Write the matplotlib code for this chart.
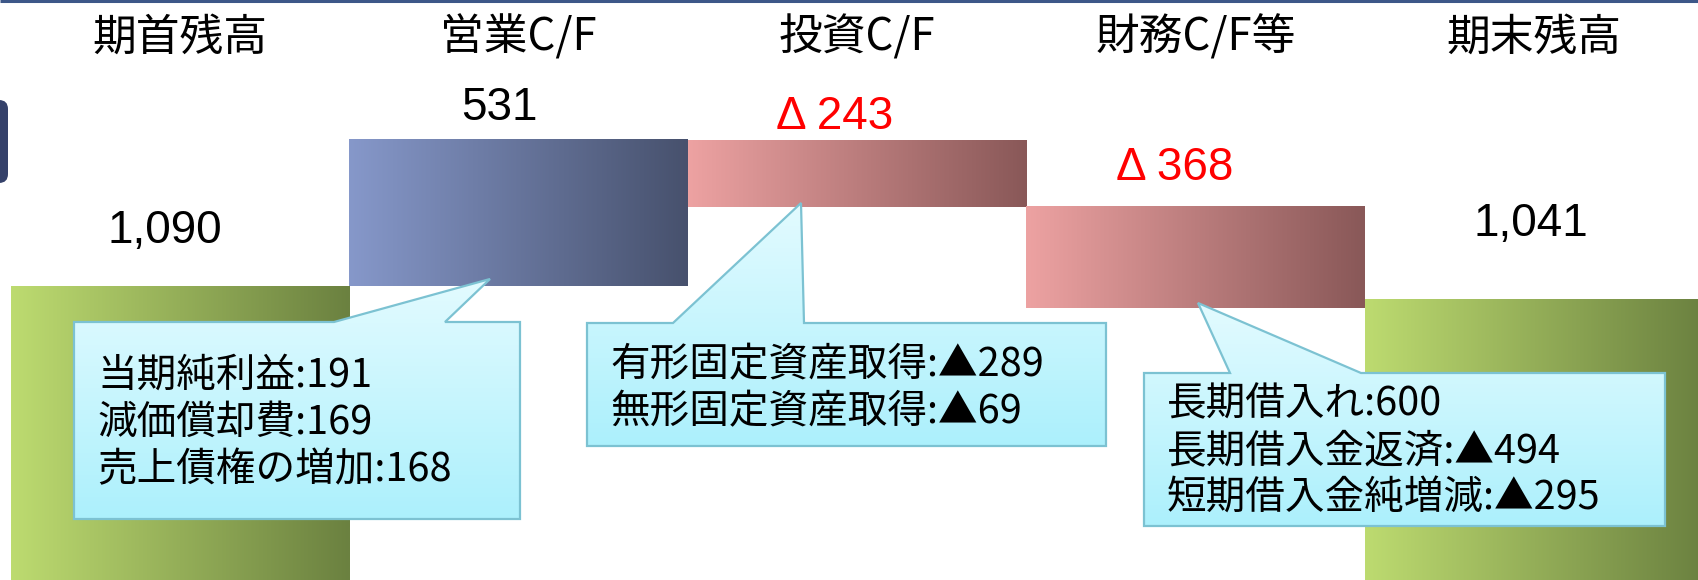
import numpy as np
import matplotlib
matplotlib.use('Agg')
import matplotlib.pyplot as plt
from matplotlib.colors import LinearSegmentedColormap
from matplotlib.patches import Polygon, FancyBboxPatch

# ---- data ----
categories = ['期首残高', '営業C/F', '投資C/F', '財務C/F等', '期末残高']
values = [1090, 531, -243, -368, 1041]
value_labels = ['1,090', '531', 'Δ 243', 'Δ 368', '1,041']
label_red = [False, False, True, True, False]

callout_op = ['当期純利益:191', '減価償却費:169', '売上債権の増加:168']
callout_inv = ['有形固定資産取得:▲289', '無形固定資産取得:▲69']
callout_fin = ['長期借入れ:600', '長期借入金返済:▲494', '短期借入金純増減:▲295']

# ---- layout / style ----
W, H = 1698, 580
JP = ['Noto Sans CJK JP', 'DejaVu Sans']
NUM = ['Liberation Sans', 'DejaVu Sans']

grad_green = ('#bddb70', '#6b8140')
grad_blue = ('#8698ca', '#47516d')
grad_pink = ('#eda2a2', '#895858')
bar_grads = [grad_green, grad_blue, grad_pink, grad_pink, grad_green]

# label offsets (dx in bar units, dy in value units above bar top)
label_off = [(-0.045, 200), (-0.055, 117), (-0.065, 84), (-0.06, 142), (-0.01, 275)]


def waterfall(vals):
    bottoms, heights = [], []
    run = 0
    for i, v in enumerate(vals):
        if i == 0 or i == len(vals) - 1:
            bottoms.append(0)
            heights.append(v)
            run = v if i == 0 else run
        else:
            b = run if v >= 0 else run + v
            bottoms.append(b)
            heights.append(abs(v))
            run += v
    return bottoms, heights


def main():
    fig = plt.figure(figsize=(W / 100, H / 100), dpi=100)
    ax = fig.add_axes([0, 0, 1, 1])
    ax.axis('off')

    bottoms, heights = waterfall(values)
    grad = np.linspace(0, 1, 256).reshape(1, -1)
    for i, (b, h) in enumerate(zip(bottoms, heights)):
        cmap = LinearSegmentedColormap.from_list(f'g{i}', bar_grads[i])
        ax.imshow(grad, extent=(i - 0.5, i + 0.5, b, b + h), cmap=cmap,
                  aspect='auto', zorder=2)

        dx, dy = label_off[i]
        ax.text(i + dx, b + h + dy, value_labels[i], ha='center', va='center',
                fontsize=33, family=NUM,
                color='#ff0000' if label_red[i] else 'black', zorder=5)
        ax.text(i, 0.935, categories[i], transform=ax.get_xaxis_transform(),
                ha='center', va='center', fontsize=31.5, family=JP, zorder=5)

    ax.set_xlim(-0.532, 4.485)
    ax.set_ylim(21.8, 2131)

    # overlay in pixel coordinates for callouts and frame decorations
    ov = fig.add_axes([0, 0, 1, 1], zorder=3)
    ov.set_xlim(0, W)
    ov.set_ylim(H, 0)
    ov.axis('off')
    ov.patch.set_alpha(0)

    ov.plot([0, W], [1, 1], color='#3d5788', lw=2.2, solid_capstyle='butt')
    ov.add_patch(FancyBboxPatch((-20, 100), 28, 83,
                                boxstyle='round,pad=0,rounding_size=9',
                                fc='#35416a', ec='none'))

    callouts = [
        # box x0, x1, y0, y1, pointer base a, b, tip, lines, text x, first line y
        (74, 520, 322, 519, 334, 445, (490, 279), callout_op, 97, 376),
        (587, 1106, 323, 446, 673, 804, (801, 203), callout_inv, 610, 365),
        (1144, 1665, 373, 526, 1230, 1361, (1198, 303), callout_fin, 1167, 404),
    ]
    cyan = LinearSegmentedColormap.from_list('cy', ['#e3fbff', '#acf0fc'])
    vgrad = np.linspace(0, 1, 256).reshape(-1, 1)
    for x0, x1, y0, y1, pa, pb, tip, lines, tx, ty in callouts:
        pts = [(x0, y0), (pa, y0), tip, (pb, y0), (x1, y0), (x1, y1), (x0, y1)]
        poly = Polygon(pts, closed=True, fc='none', ec='#7cc2d2', lw=1.6,
                       joinstyle='miter', zorder=3)
        ov.add_patch(poly)
        im = ov.imshow(vgrad, extent=(x0, x1, y1, tip[1]), cmap=cyan,
                       aspect='auto', origin='upper', zorder=2)
        im.set_clip_path(poly)
        step = 47
        for k, line in enumerate(lines):
            ov.text(tx, ty + k * step, line, ha='left', va='center',
                    fontsize=28.5, family=JP, zorder=4)

    ov.set_xlim(0, W)
    ov.set_ylim(H, 0)

    fig.savefig('out.png', dpi=100)


if __name__ == '__main__':
    main()
